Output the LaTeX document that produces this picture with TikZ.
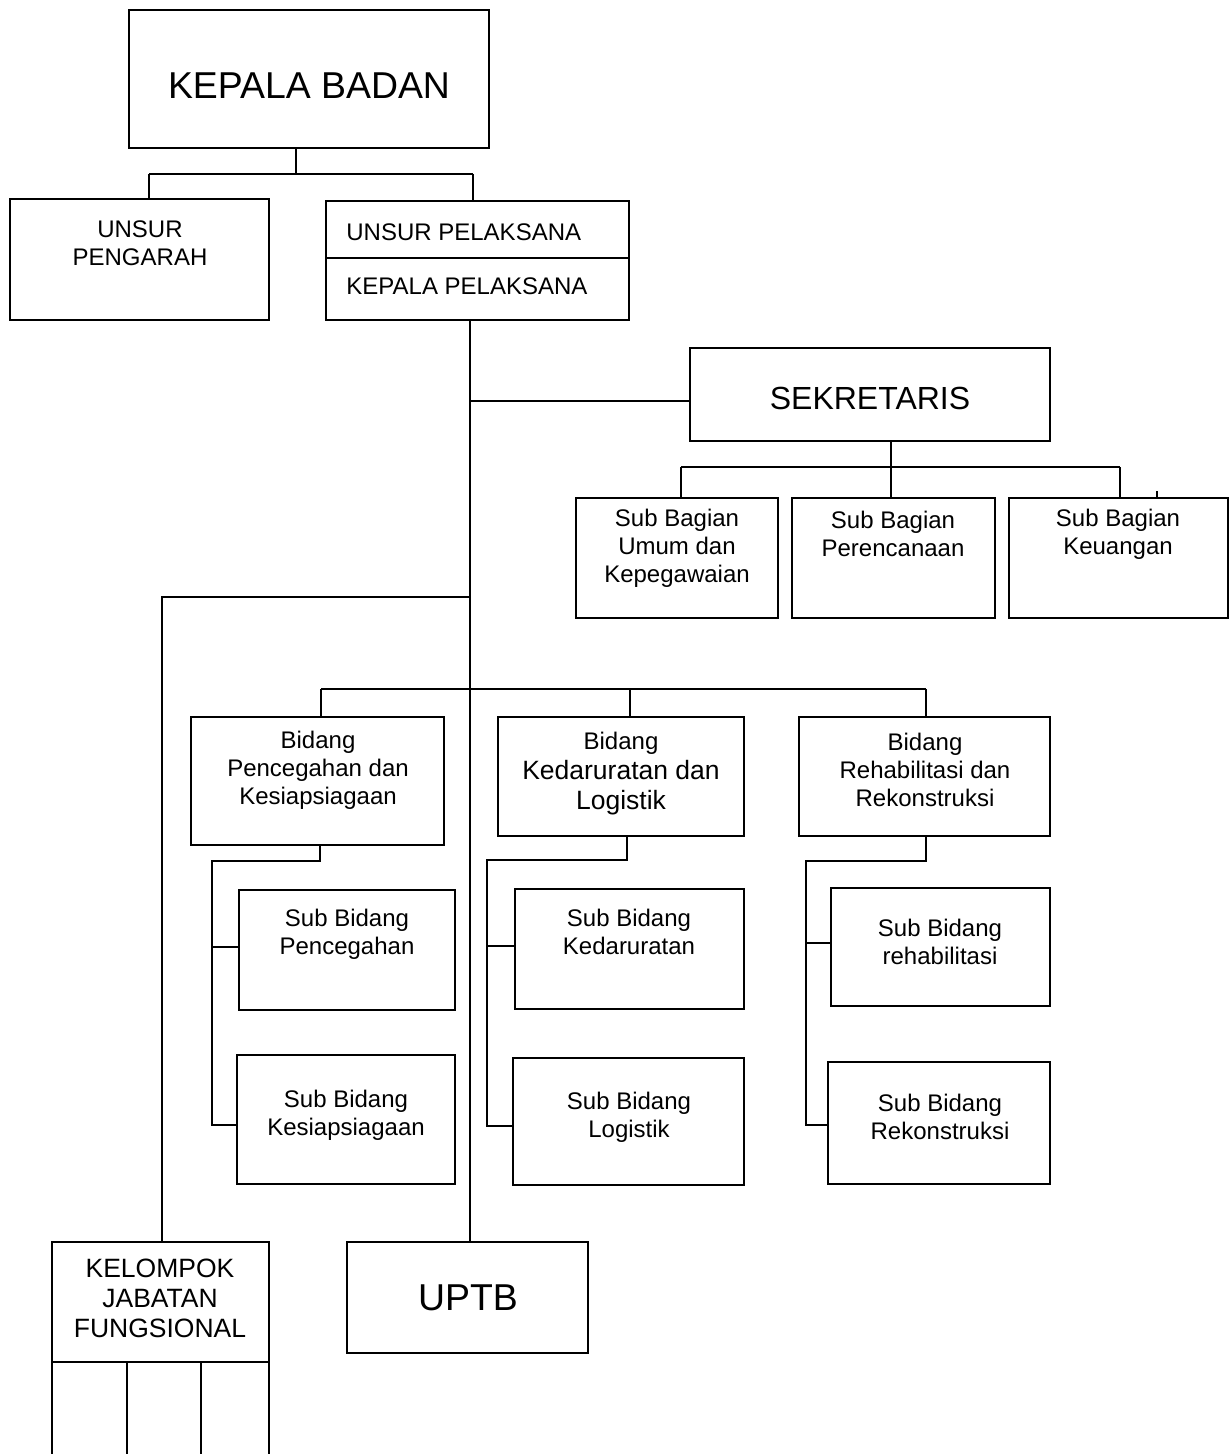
\documentclass[tikz,border=0pt]{standalone}
\usepackage{fontspec}
\setmainfont{Liberation Sans}
\usetikzlibrary{fit}
\tikzset{
  box/.style={draw, line width=1pt, inner sep=0pt},
  conn/.style={line width=1pt},
  trunk/.style={line width=0.7pt},
  lbl/.style={align=center, inner sep=0pt, font=\fontsize{12}{14}\selectfont},
  midlbl/.style={align=center, inner sep=0pt, font=\fontsize{13.25}{15}\selectfont},
  biglbl/.style={inner sep=0pt, font=\fontsize{18.7}{22}\selectfont},
  seklbl/.style={inner sep=0pt, font=\fontsize{16}{19}\selectfont}
}
\begin{document}
\begin{tikzpicture}[x=0.5pt,y=-0.5pt]
\useasboundingbox (0,0) rectangle (1229,1454);

% --- top level ---
\node[box, fit={(129,10)(489,148)}] (kb) {};
\node[biglbl] (kbt) at (309,86) {KEPALA BADAN};

\node[box, fit={(10,199)(269,320)}] (ua) {};
\node[lbl] (uat) at (140,243) {UNSUR\\PENGARAH};

\node[box, fit={(326,201)(629,320)}] (pel) {};
\coordinate (pd) at (326,258);
\draw[conn] (pd) -- (pd -| pel.east);
\node[lbl, anchor=west] (pelt1) at (346,232) {UNSUR PELAKSANA};
\node[lbl, anchor=west] (pelt2) at (346,286) {KEPALA PELAKSANA};

\coordinate (t0) at (296,174);
\coordinate (tL) at (149,174);
\coordinate (tR) at (473,174);
\draw[conn] (kb.south -| t0) -- (t0);
\draw[conn] (tL) -- (tR);
\draw[conn] (tL) -- (tL |- ua.north);
\draw[conn] (tR) -- (tR |- pel.north);

% --- sekretariat ---
\node[box, fit={(690,348)(1050,441)}] (sek) {};
\node[seklbl] (sekt) at (870,398) {SEKRETARIS};

\node[box, fit={(576,498)(778,618)}] (sb1) {};
\node[lbl] (sb1t) at (677,548) {Sub Bagian\\Umum dan\\Kepegawaian};
\node[box, fit={(792,498)(995,618)}] (sb2) {};
\node[lbl] (sb2t) at (893,534) {Sub Bagian\\Perencanaan};
\node[box, fit={(1009,498)(1228,618)}] (sb3) {};
\node[lbl] (sb3t) at (1118,534) {Sub Bagian\\Keuangan};

\coordinate (sbus) at (891,467);
\coordinate (sbL) at (681,467);
\coordinate (sbR) at (1120,467);
\draw[conn] (sek.south -| sbus) -- (sbus |- sb2.north);
\draw[conn] (sbL) -- (sbR);
\draw[conn] (sbL) -- (sbL |- sb1.north);
\draw[conn] (sbR) -- (sbR |- sb3.north);
\coordinate (tick) at (1157,491);
\draw[conn] (tick) -- (tick |- sb3.north);

% --- bidang ---
\node[box, fit={(191,717)(444,845)}] (b1) {};
\node[lbl] (b1t) at (318,770) {Bidang\\Pencegahan dan\\Kesiapsiagaan};
\node[box, fit={(498,717)(744,836)}] (b2) {};
\node[midlbl] (b2t) at (621,774) {{\fontsize{12}{14}\selectfont Bidang}\\Kedaruratan dan\\Logistik};
\node[box, fit={(799,717)(1050,836)}] (b3) {};
\node[lbl] (b3t) at (925,770) {Bidang\\Rehabilitasi dan\\Rekonstruksi};

\coordinate (bL) at (321,689);
\coordinate (bM) at (630,689);
\coordinate (bR) at (926,689);
\draw[conn] (bL) -- (bR);
\draw[conn] (bL) -- (bL |- b1.north);
\draw[conn] (bM) -- (bM |- b2.north);
\draw[conn] (bR) -- (bR |- b3.north);

% --- sub bidang ---
\node[box, fit={(239,890)(455,1010)}] (s11) {};
\node[lbl] (s11t) at (347,934) {Sub Bidang\\Pencegahan};
\node[box, fit={(237,1055)(455,1184)}] (s12) {};
\node[lbl] (s12t) at (346,1115) {Sub Bidang\\Kesiapsiagaan};

\node[box, fit={(515,889)(744,1009)}] (s21) {};
\node[lbl] (s21t) at (629,932) {Sub Bidang\\Kedaruratan};
\node[box, fit={(513,1058)(744,1185)}] (s22) {};
\node[lbl] (s22t) at (629,1117) {Sub Bidang\\Logistik};

\node[box, fit={(831,888)(1050,1006)}] (s31) {};
\node[lbl] (s31t) at (940,942) {Sub Bidang\\rehabilitasi};
\node[box, fit={(828,1062)(1050,1184)}] (s32) {};
\node[lbl] (s32t) at (940,1117) {Sub Bidang\\Rekonstruksi};

\coordinate (p1a) at (320,861);
\coordinate (p1b) at (212,861);
\coordinate (p1c) at (212,947);
\coordinate (p1d) at (212,1125);
\draw[conn] (b1.south -| p1a) -- (p1a) -- (p1b) -- (p1d) -- (p1d -| s12.west);
\draw[conn] (p1c) -- (p1c -| s11.west);

\coordinate (p2a) at (627,860);
\coordinate (p2b) at (487,860);
\coordinate (p2c) at (487,946);
\coordinate (p2d) at (487,1126);
\draw[conn] (b2.south -| p2a) -- (p2a) -- (p2b) -- (p2d) -- (p2d -| s22.west);
\draw[conn] (p2c) -- (p2c -| s21.west);

\coordinate (p3a) at (926,861);
\coordinate (p3b) at (806,861);
\coordinate (p3c) at (806,943);
\coordinate (p3d) at (806,1125);
\draw[conn] (b3.south -| p3a) -- (p3a) -- (p3b) -- (p3d) -- (p3d -| s32.west);
\draw[conn] (p3c) -- (p3c -| s31.west);

% --- bottom units ---
\node[box, fit={(347,1242)(588,1353)}] (uptb) {};
\node[biglbl] (uptbt) at (468,1298) {UPTB};

\node[box, fit={(52,1242)(269,1362)}] (kjf) {};
\node[midlbl] (kjft) at (160,1298) {KELOMPOK\\JABATAN\\FUNGSIONAL};
\foreach \cx in {52,127,201,269} {
  \coordinate (kc) at (\cx,1454);
  \draw[conn] (kjf.south -| kc) -- (kc);
}

% --- main trunk ---
\coordinate (mx) at (470,0);
\coordinate (sy) at (0,401);
\coordinate (ky) at (162,597);
\draw[trunk] (pel.south -| mx) -- (uptb.north -| mx);
\draw[trunk] (mx |- sy) -- (sek.west |- sy);
\draw[trunk] (mx |- ky) -- (ky) -- (ky |- kjf.north);
\end{tikzpicture}
\end{document}
